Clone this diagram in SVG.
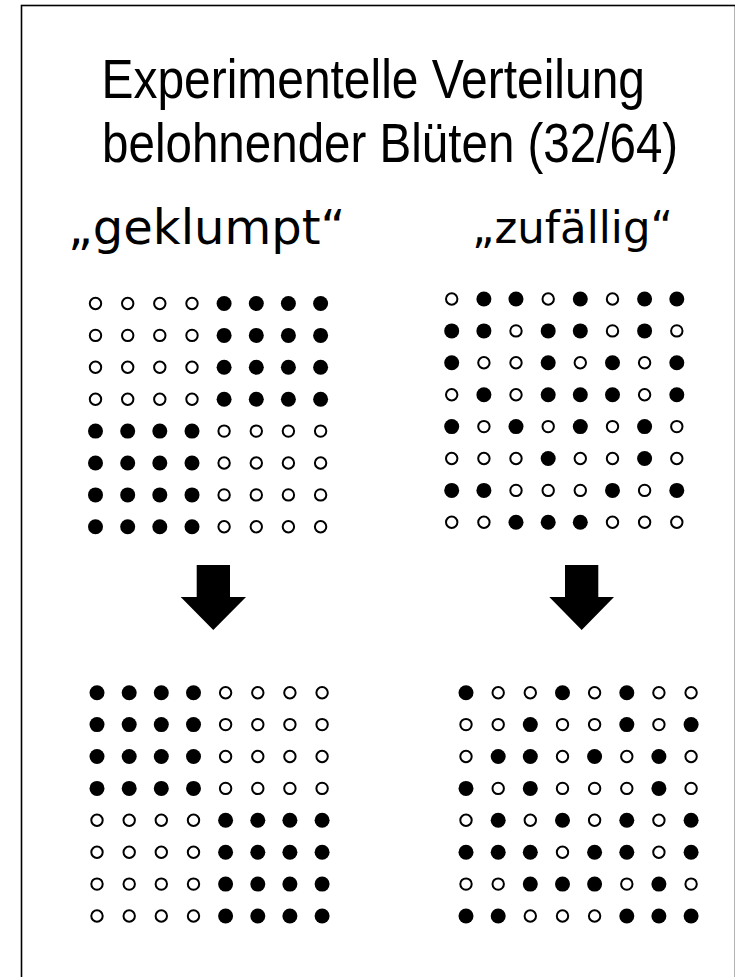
<svg xmlns="http://www.w3.org/2000/svg" xmlns:xlink="http://www.w3.org/1999/xlink" width="735" height="977" viewBox="0 0 735 977">
<style>
.title{font-family:"Liberation Sans",Arial,sans-serif;font-size:56px;fill:#000}
.lab{font-family:"DejaVu Sans",sans-serif;fill:#000}
.frame{fill:#fff;stroke:#000;stroke-width:1.6}
.arrow{fill:#000}
</style>
<defs>
<circle id="F" r="7.5" fill="#000"/>
<circle id="O" r="5.7" fill="#fff" stroke="#000" stroke-width="2"/>
<g id="rowA"><use href="#O" x="0"/><use href="#O" x="32.2"/><use href="#O" x="64.3"/><use href="#O" x="96.5"/><use href="#F" x="128.6"/><use href="#F" x="160.8"/><use href="#F" x="192.9"/><use href="#F" x="225.1"/></g>
<g id="rowB"><use href="#F" x="0"/><use href="#F" x="32.2"/><use href="#F" x="64.3"/><use href="#F" x="96.5"/><use href="#O" x="128.6"/><use href="#O" x="160.8"/><use href="#O" x="192.9"/><use href="#O" x="225.1"/></g>
</defs>
<rect class="frame" x="21.5" y="5.5" width="714" height="975"/>
<g id="title">
<text class="title" transform="translate(101.5,97.5) scale(0.856,1)">Experimentelle Verteilung</text>
<text class="title" transform="translate(102,162) scale(0.849,1)">belohnender Blüten (32/64)</text>
</g>
<g id="label-geklumpt"><text class="lab" x="68" y="244" font-size="48">„geklumpt“</text></g>
<g id="label-zufaellig"><text class="lab" x="472" y="243" font-size="44" textLength="201" lengthAdjust="spacingAndGlyphs">„zufällig“</text></g>
<g id="grid-geklumpt-vorher" transform="translate(95.5,303.5)">
<use href="#rowA" y="0"/><use href="#rowA" y="31.9"/><use href="#rowA" y="63.8"/><use href="#rowA" y="95.7"/>
<use href="#rowB" y="127.6"/><use href="#rowB" y="159.5"/><use href="#rowB" y="191.4"/><use href="#rowB" y="223.3"/>
</g>
<g id="grid-geklumpt-nachher" transform="translate(97,692.7)">
<use href="#rowB" y="0"/><use href="#rowB" y="31.9"/><use href="#rowB" y="63.8"/><use href="#rowB" y="95.7"/>
<use href="#rowA" y="127.6"/><use href="#rowA" y="159.5"/><use href="#rowA" y="191.4"/><use href="#rowA" y="223.3"/>
</g>
<g id="grid-zufaellig-vorher" transform="translate(451.7,299)">
<g><use href="#O" x="0"/><use href="#F" x="32.2"/><use href="#F" x="64.3"/><use href="#O" x="96.5"/><use href="#F" x="128.6"/><use href="#O" x="160.8"/><use href="#F" x="192.9"/><use href="#F" x="225.1"/></g>
<g transform="translate(0,31.9)"><use href="#F" x="0"/><use href="#F" x="32.2"/><use href="#O" x="64.3"/><use href="#F" x="96.5"/><use href="#F" x="128.6"/><use href="#O" x="160.8"/><use href="#F" x="192.9"/><use href="#O" x="225.1"/></g>
<g transform="translate(0,63.8)"><use href="#F" x="0"/><use href="#O" x="32.2"/><use href="#O" x="64.3"/><use href="#F" x="96.5"/><use href="#O" x="128.6"/><use href="#F" x="160.8"/><use href="#O" x="192.9"/><use href="#F" x="225.1"/></g>
<g transform="translate(0,95.7)"><use href="#O" x="0"/><use href="#F" x="32.2"/><use href="#O" x="64.3"/><use href="#F" x="96.5"/><use href="#F" x="128.6"/><use href="#F" x="160.8"/><use href="#O" x="192.9"/><use href="#F" x="225.1"/></g>
<g transform="translate(0,127.6)"><use href="#F" x="0"/><use href="#O" x="32.2"/><use href="#F" x="64.3"/><use href="#O" x="96.5"/><use href="#F" x="128.6"/><use href="#O" x="160.8"/><use href="#F" x="192.9"/><use href="#O" x="225.1"/></g>
<g transform="translate(0,159.5)"><use href="#O" x="0"/><use href="#O" x="32.2"/><use href="#O" x="64.3"/><use href="#F" x="96.5"/><use href="#O" x="128.6"/><use href="#O" x="160.8"/><use href="#F" x="192.9"/><use href="#O" x="225.1"/></g>
<g transform="translate(0,191.4)"><use href="#F" x="0"/><use href="#F" x="32.2"/><use href="#O" x="64.3"/><use href="#O" x="96.5"/><use href="#O" x="128.6"/><use href="#F" x="160.8"/><use href="#O" x="192.9"/><use href="#F" x="225.1"/></g>
<g transform="translate(0,223.3)"><use href="#O" x="0"/><use href="#O" x="32.2"/><use href="#F" x="64.3"/><use href="#F" x="96.5"/><use href="#F" x="128.6"/><use href="#O" x="160.8"/><use href="#O" x="192.9"/><use href="#O" x="225.1"/></g>
</g>
<g id="grid-zufaellig-nachher" transform="translate(466,692.7)">
<g><use href="#F" x="0"/><use href="#O" x="32.2"/><use href="#O" x="64.3"/><use href="#F" x="96.5"/><use href="#O" x="128.6"/><use href="#F" x="160.8"/><use href="#O" x="192.9"/><use href="#O" x="225.1"/></g>
<g transform="translate(0,31.9)"><use href="#O" x="0"/><use href="#O" x="32.2"/><use href="#F" x="64.3"/><use href="#O" x="96.5"/><use href="#O" x="128.6"/><use href="#F" x="160.8"/><use href="#O" x="192.9"/><use href="#F" x="225.1"/></g>
<g transform="translate(0,63.8)"><use href="#O" x="0"/><use href="#F" x="32.2"/><use href="#F" x="64.3"/><use href="#O" x="96.5"/><use href="#F" x="128.6"/><use href="#O" x="160.8"/><use href="#F" x="192.9"/><use href="#O" x="225.1"/></g>
<g transform="translate(0,95.7)"><use href="#F" x="0"/><use href="#O" x="32.2"/><use href="#F" x="64.3"/><use href="#O" x="96.5"/><use href="#O" x="128.6"/><use href="#O" x="160.8"/><use href="#F" x="192.9"/><use href="#O" x="225.1"/></g>
<g transform="translate(0,127.6)"><use href="#O" x="0"/><use href="#F" x="32.2"/><use href="#O" x="64.3"/><use href="#F" x="96.5"/><use href="#O" x="128.6"/><use href="#F" x="160.8"/><use href="#O" x="192.9"/><use href="#F" x="225.1"/></g>
<g transform="translate(0,159.5)"><use href="#F" x="0"/><use href="#F" x="32.2"/><use href="#F" x="64.3"/><use href="#O" x="96.5"/><use href="#F" x="128.6"/><use href="#F" x="160.8"/><use href="#O" x="192.9"/><use href="#F" x="225.1"/></g>
<g transform="translate(0,191.4)"><use href="#O" x="0"/><use href="#O" x="32.2"/><use href="#F" x="64.3"/><use href="#F" x="96.5"/><use href="#F" x="128.6"/><use href="#O" x="160.8"/><use href="#F" x="192.9"/><use href="#O" x="225.1"/></g>
<g transform="translate(0,223.3)"><use href="#F" x="0"/><use href="#F" x="32.2"/><use href="#O" x="64.3"/><use href="#O" x="96.5"/><use href="#O" x="128.6"/><use href="#F" x="160.8"/><use href="#F" x="192.9"/><use href="#F" x="225.1"/></g>
</g>
<g id="connectors">
<polygon class="arrow" points="196.7,565 230,565 230,597 246,597 213.3,630 180.7,597 196.7,597"/>
<polygon class="arrow" points="565,565 598.3,565 598.3,597 614,597 581.7,630 549.3,597 565,597"/>
</g>
</svg>
